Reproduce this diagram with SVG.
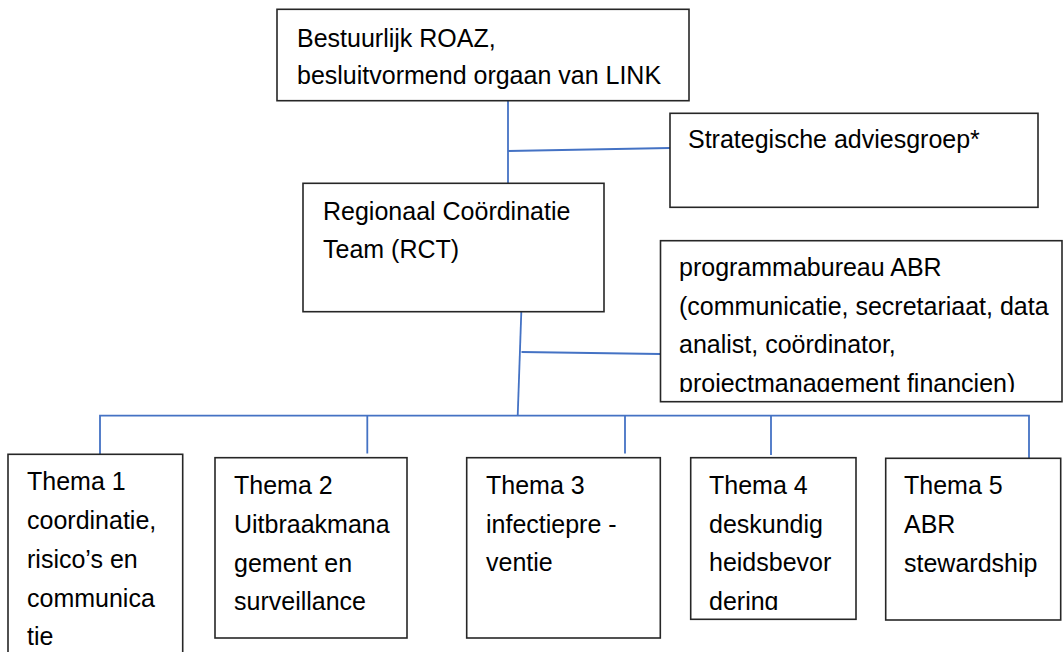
<svg xmlns="http://www.w3.org/2000/svg" width="1063" height="652" viewBox="0 0 1063 652">
  <style>
    .box { fill: #ffffff; stroke: #262626; stroke-width: 1.6; }
    .lbl { font-family: "Liberation Sans", Arial, sans-serif; font-size: 25px; fill: #000000; }
    .conn { fill: none; stroke: #4472c4; stroke-width: 1.8; stroke-linecap: butt; }
  </style>
  <defs>
    <clipPath id="clipProg"><rect x="660" y="240" width="403" height="152"/></clipPath>
    <clipPath id="clipT4"><rect x="691" y="458" width="165" height="152"/></clipPath>
  </defs>
  <rect x="0" y="0" width="1063" height="652" fill="#ffffff"/>

  <g id="connectors">
    <line class="conn" x1="508" y1="101" x2="508" y2="183"/>
    <line class="conn" x1="508" y1="151" x2="670" y2="148"/>
    <line class="conn" x1="521.3" y1="312" x2="517.7" y2="416"/>
    <line class="conn" x1="521.5" y1="352" x2="660" y2="354"/>
    <polyline class="conn" points="100,454 100,415.7 1029,415.7 1029,458"/>
    <line class="conn" x1="367.3" y1="415.7" x2="367.3" y2="453.5"/>
    <line class="conn" x1="625" y1="415.7" x2="625" y2="453.5"/>
    <line class="conn" x1="771" y1="415.7" x2="771" y2="455"/>
  </g>

  <g id="bestuurlijk-roaz">
    <rect class="box" x="277" y="9.3" width="412" height="91.4"/>
    <text class="lbl" x="297" y="47">Bestuurlijk ROAZ,</text>
    <text class="lbl" x="297" y="84">besluitvormend orgaan van LINK</text>
  </g>

  <g id="strategische-adviesgroep">
    <rect class="box" x="670" y="113.3" width="368" height="94"/>
    <text class="lbl" x="688" y="148">Strategische adviesgroep*</text>
  </g>

  <g id="rct">
    <rect class="box" x="303" y="183.3" width="301" height="128.4"/>
    <text class="lbl" x="323" y="220">Regionaal Coördinatie</text>
    <text class="lbl" x="323" y="258">Team (RCT)</text>
  </g>

  <g id="programmabureau">
    <rect class="box" x="660.5" y="240.7" width="401.5" height="161"/>
    <g clip-path="url(#clipProg)">
      <text class="lbl" x="679" y="276">programmabureau ABR</text>
      <text class="lbl" x="679" y="314.5">(communicatie, secretariaat, data</text>
      <text class="lbl" x="679" y="353">analist, coördinator,</text>
      <text class="lbl" x="679" y="391.5">projectmanagement financien)</text>
    </g>
  </g>

  <g id="thema1">
    <rect class="box" x="8" y="454.3" width="174.7" height="210"/>
    <text class="lbl" x="27" y="490">Thema 1</text>
    <text class="lbl" x="27" y="529">coordinatie,</text>
    <text class="lbl" x="27" y="568">risico’s en</text>
    <text class="lbl" x="27" y="607">communica</text>
    <text class="lbl" x="27" y="645">tie</text>
  </g>

  <g id="thema2">
    <rect class="box" x="215" y="457.7" width="192" height="180.3"/>
    <text class="lbl" x="234" y="494">Thema 2</text>
    <text class="lbl" x="234" y="533">Uitbraakmana</text>
    <text class="lbl" x="234" y="571.5">gement en</text>
    <text class="lbl" x="234" y="610">surveillance</text>
  </g>

  <g id="thema3">
    <rect class="box" x="466.7" y="457.7" width="193.6" height="180.3"/>
    <text class="lbl" x="486" y="493.5">Thema 3</text>
    <text class="lbl" x="486" y="532.5">infectiepre -</text>
    <text class="lbl" x="486" y="571">ventie</text>
  </g>

  <g id="thema4">
    <rect class="box" x="690.7" y="457.7" width="165.3" height="161.6"/>
    <g clip-path="url(#clipT4)">
      <text class="lbl" x="709" y="493.5">Thema 4</text>
      <text class="lbl" x="709" y="532.5">deskundig</text>
      <text class="lbl" x="709" y="571">heidsbevor</text>
      <text class="lbl" x="709" y="609.5">dering</text>
    </g>
  </g>

  <g id="thema5">
    <rect class="box" x="885.7" y="458.3" width="175" height="161.7"/>
    <text class="lbl" x="904" y="494">Thema 5</text>
    <text class="lbl" x="904" y="533">ABR</text>
    <text class="lbl" x="904" y="571.5">stewardship</text>
  </g>
</svg>
